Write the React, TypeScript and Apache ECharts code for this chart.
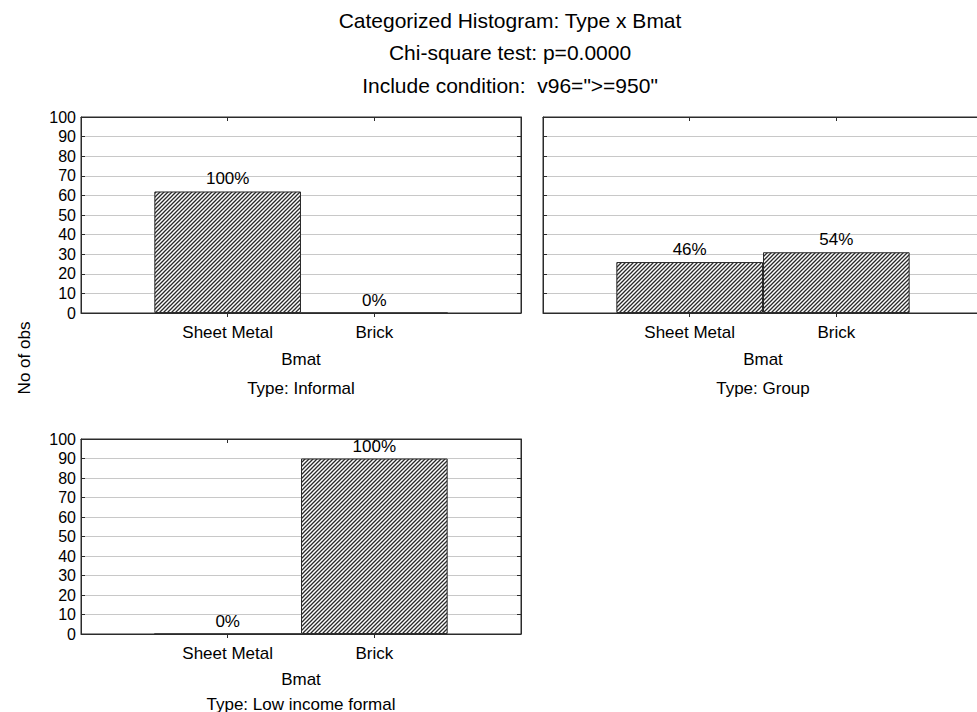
import React, { useEffect, useRef } from "react";
import * as echarts from "echarts";

const categories = ["Sheet Metal", "Brick"];
const types = ["Informal", "Group", "Low income formal"];
const informalCounts = [62, 0];
const groupCounts = [26, 31];
const lowIncomeFormalCounts = [0, 90];
const yMin = 0;
const yMax = 100;
const yStep = 10;
const titleLines = [
  "Categorized Histogram: Type x Bmat",
  "Chi-square test: p=0.0000",
  'Include condition:  v96=">=950"',
];
const xAxisTitle = "Bmat";
const yAxisTitle = "No of obs";

const FONT = '"Liberation Sans", Arial, Helvetica, sans-serif';

function makeHatch(): HTMLCanvasElement {
  const c = document.createElement("canvas");
  c.width = 4;
  c.height = 4;
  const ctx = c.getContext("2d")!;
  ctx.fillStyle = "#ffffff";
  ctx.fillRect(0, 0, 4, 4);
  ctx.strokeStyle = "#2a2a2a";
  ctx.lineWidth = 1.3;
  ctx.beginPath();
  ctx.moveTo(-1, 5);
  ctx.lineTo(5, -1);
  ctx.moveTo(-1, 1);
  ctx.lineTo(1, -1);
  ctx.moveTo(3, 5);
  ctx.lineTo(5, 3);
  ctx.stroke();
  return c;
}

export default function App() {
  const ref = useRef<HTMLDivElement>(null);

  useEffect(() => {
    if (!ref.current) return;
    const chart = echarts.init(ref.current, undefined, { renderer: "svg" });
    const hatch = makeHatch();
    const countsList = [informalCounts, groupCounts, lowIncomeFormalCounts];
    const layout = [
      { left: 81, top: 117, width: 440, height: 196, showY: true, bmatY: 359, typeY: 388 },
      { left: 543, top: 117, width: 440, height: 196, showY: false, bmatY: 359, typeY: 388 },
      { left: 81, top: 439, width: 440, height: 195, showY: true, bmatY: 679, typeY: 704 },
    ];
    const frameColor = "#2b2b2b";
    const grids: any[] = [];
    const xAxes: any[] = [];
    const yAxes: any[] = [];
    const series: any[] = [];
    const graphics: any[] = [];

    titleLines.forEach((t, i) => {
      graphics.push({
        type: "text",
        x: 510,
        y: 20 + i * 32.5,
        style: {
          text: t,
          fontSize: 21,
          fontFamily: FONT,
          fill: "#000",
          align: "center",
          verticalAlign: "middle",
        },
      });
    });
    graphics.push({
      type: "text",
      x: 24,
      y: 358,
      rotation: Math.PI / 2,
      style: {
        text: yAxisTitle,
        fontSize: 17,
        fontFamily: FONT,
        fill: "#000",
        align: "center",
        verticalAlign: "middle",
      },
    });

    layout.forEach((p, i) => {
      const counts = countsList[i];
      const total = counts.reduce((a, b) => a + b, 0);
      grids.push({
        left: p.left,
        top: p.top,
        width: p.width,
        height: p.height,
        outerBoundsMode: "none",
        containLabel: false,
        show: true,
        borderColor: frameColor,
        borderWidth: 1,
        backgroundColor: "transparent",
      });
      xAxes.push({
        gridIndex: i,
        type: "value",
        min: 0,
        max: categories.length + 1,
        interval: 1,
        position: "bottom",
        axisLine: { show: true, onZero: false, lineStyle: { color: frameColor, width: 1 } },
        axisTick: {
          show: true,
          inside: false,
          length: 4,
          customValues: categories.map((_, k) => k + 1),
          lineStyle: { color: frameColor },
        },
        axisLabel: {
          show: true,
          customValues: categories.map((_, k) => k + 1),
          formatter: (v: number) => categories[Math.round(v) - 1] ?? "",
          fontSize: 17,
          fontFamily: FONT,
          color: "#000",
          margin: 11,
        },
        splitLine: { show: false },
      });
      xAxes.push({
        gridIndex: i,
        type: "value",
        min: 0,
        max: categories.length + 1,
        interval: 1,
        position: "top",
        axisLine: { show: true, onZero: false, lineStyle: { color: frameColor, width: 1 } },
        axisTick: {
          show: true,
          inside: true,
          length: 4,
          customValues: categories.map((_, k) => k + 1),
          lineStyle: { color: frameColor },
        },
        axisLabel: { show: false },
        splitLine: { show: false },
      });
      yAxes.push({
        gridIndex: i,
        type: "value",
        min: yMin,
        max: yMax,
        interval: yStep,
        position: "left",
        axisLine: { show: true, onZero: false, lineStyle: { color: frameColor, width: 1 } },
        axisTick: { show: true, inside: true, length: 4, lineStyle: { color: frameColor } },
        axisLabel: {
          show: p.showY,
          fontSize: 16,
          fontFamily: FONT,
          color: "#000",
          margin: 5,
        },
        splitLine: { show: true, lineStyle: { color: "#c8c8c8", width: 1 } },
      });
      yAxes.push({
        gridIndex: i,
        type: "value",
        min: yMin,
        max: yMax,
        interval: yStep,
        position: "right",
        axisLine: { show: true, onZero: false, lineStyle: { color: frameColor, width: 1 } },
        axisTick: { show: true, inside: true, length: 4, lineStyle: { color: frameColor } },
        axisLabel: { show: false },
        splitLine: { show: false },
      });
      series.push({
        type: "bar",
        xAxisIndex: i * 2,
        yAxisIndex: i * 2,
        data: counts.map((v, k) => [k + 1, v]),
        barWidth: p.width / (categories.length + 1),
        itemStyle: {
          color: { image: hatch, repeat: "repeat" },
          borderColor: frameColor,
          borderWidth: 1,
        },
        label: {
          show: true,
          position: "top",
          distance: 4,
          fontSize: 17,
          fontFamily: FONT,
          color: "#000",
          formatter: (prm: any) =>
            `${total > 0 ? Math.round((prm.value[1] / total) * 100) : 0}%`,
        },
        z: 3,
      });
      const cx = p.left + p.width / 2;
      graphics.push({
        type: "text",
        x: cx,
        y: p.bmatY,
        style: {
          text: xAxisTitle,
          fontSize: 17,
          fontFamily: FONT,
          fill: "#000",
          align: "center",
          verticalAlign: "middle",
        },
      });
      graphics.push({
        type: "text",
        x: cx,
        y: p.typeY,
        style: {
          text: `Type: ${types[i]}`,
          fontSize: 17,
          fontFamily: FONT,
          fill: "#000",
          align: "center",
          verticalAlign: "middle",
        },
      });
    });

    chart.setOption({
      animation: false,
      backgroundColor: "#ffffff",
      textStyle: { fontFamily: FONT },
      grid: grids,
      xAxis: xAxes,
      yAxis: yAxes,
      series,
      graphic: graphics,
    });
    return () => {
      chart.dispose();
    };
  }, []);

  return (
    <div
      ref={ref}
      style={{ position: "absolute", left: 0, top: 0, width: 977, height: 712 }}
    />
  );
}
